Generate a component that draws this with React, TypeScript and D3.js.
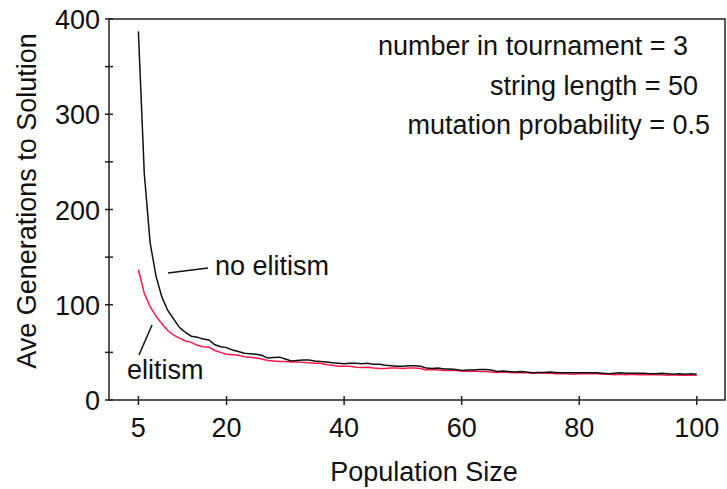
import React from "react";
import * as d3 from "d3";

const popSizes: number[] = Array.from({ length: 96 }, (_, i) => i + 5);

const noElitism: number[] = [
  387, 238, 165, 130, 108, 94, 85, 76, 71, 67,
  66, 64, 63, 58, 56, 55, 52.5, 51, 49, 48.5,
  48, 47, 44, 44.5, 45, 43, 41, 41.5, 42, 42,
  41, 40.5, 40, 39, 38.5, 38, 38.5, 38.5, 38, 38.5,
  37.5, 37.5, 36.5, 36, 35.5, 35.5, 36, 36, 35.5, 33.5,
  33, 33.5, 32.5, 32.5, 32, 31, 31.5, 31.5, 32, 32,
  31.5, 30, 30.5, 30, 29.5, 30, 29.5, 28.5, 29, 29,
  29.5, 29, 28.5, 28.5, 28.5, 28.5, 28.5, 28.5, 28.5, 28,
  27.5, 28, 28.5, 28, 28, 28, 28, 27.5, 27.5, 28,
  27.5, 27, 27.5, 27, 27.5, 27,
];

const elitism: number[] = [
  137, 112, 98, 88, 80, 73, 68, 65, 62, 60.5,
  57.5, 56, 55.5, 52, 50, 48, 47.5, 47, 45.5, 45,
  44, 43, 41.5, 41, 40.5, 40.5, 40, 40, 39.5, 39,
  38.5, 38.5, 37, 36.5, 35.5, 35.5, 35.5, 34.5, 34, 34.5,
  33.5, 33, 33, 33.5, 33.5, 33, 33.5, 33.5, 33, 31.5,
  32, 31.5, 31, 31, 31, 30.5, 30, 30.5, 30, 30,
  29.5, 29, 29.5, 29, 28.5, 28.5, 28.5, 28, 28.5, 28,
  28, 27.5, 27.5, 27.5, 27, 27.5, 27.5, 27.5, 27.5, 27,
  27, 26.5, 27, 26.5, 27, 26.5, 26.5, 26.5, 26.5, 26.5,
  26, 26.5, 26, 26, 26, 26,
];

const xTicks: number[] = [5, 20, 40, 60, 80, 100];
const yMajorTicks: number[] = [0, 100, 200, 300, 400];
const yMinorTicks: number[] = [50, 150, 250, 350];
const annotations: string[] = [
  "number in tournament = 3",
  "string length = 50",
  "mutation probability = 0.5",
];

const FONT = "'Liberation Sans', Arial, Helvetica, sans-serif";
const FS = 27;

export default function App() {
  const W = 727;
  const H = 489;
  const left = 109;
  const right = 725;
  const top = 19;
  const bottom = 400;

  const x = d3.scaleLinear().domain([0, 104.8]).range([left, right]);
  const y = d3.scaleLinear().domain([0, 400]).range([bottom, top]);

  const line = d3
    .line<number>()
    .x((_, i) => x(popSizes[i]))
    .y((d) => y(d));

  const annEnds = [688, 698, 710];
  const annBase = [55, 95, 134];

  return (
    <svg
      width={W}
      height={H}
      style={{ position: "fixed", left: 0, top: 0, background: "#fff" }}
      fontFamily={FONT}
    >
      <rect x={0} y={0} width={W} height={H} fill="#fff" />
      <rect
        x={left}
        y={top}
        width={right - left}
        height={bottom - top}
        fill="none"
        stroke="#222"
        strokeWidth={1.5}
      />
      {yMajorTicks.concat(yMinorTicks).map((t) => (
        <line
          key={"yt" + t}
          x1={left - 4}
          x2={left + 4}
          y1={y(t)}
          y2={y(t)}
          stroke="#222"
          strokeWidth={1.5}
        />
      ))}
      {yMajorTicks.map((t) => (
        <text
          key={"yl" + t}
          x={100}
          y={y(t) + 10}
          textAnchor="end"
          fontSize={FS}
          fill="#111"
        >
          {t}
        </text>
      ))}
      {xTicks.map((t) => (
        <g key={"xt" + t}>
          <line
            x1={x(t)}
            x2={x(t)}
            y1={bottom - 4}
            y2={bottom + 5}
            stroke="#222"
            strokeWidth={1.5}
          />
          <text
            x={x(t)}
            y={437}
            textAnchor="middle"
            fontSize={FS}
            fill="#111"
          >
            {t}
          </text>
        </g>
      ))}
      <text x={424} y={481} textAnchor="middle" fontSize={FS} fill="#111">
        Population Size
      </text>
      <text
        transform={`translate(36, 201) rotate(-90)`}
        textAnchor="middle"
        fontSize={FS}
        fill="#111"
      >
        Ave Generations to Solution
      </text>
      <path
        d={line(elitism) || ""}
        fill="none"
        stroke="#ff1a4a"
        strokeWidth={1.5}
      />
      <path
        d={line(noElitism) || ""}
        fill="none"
        stroke="#111"
        strokeWidth={1.5}
      />
      {annotations.map((a, i) => (
        <text
          key={a}
          x={annEnds[i]}
          y={annBase[i]}
          textAnchor="end"
          fontSize={FS}
          fill="#111"
        >
          {a}
        </text>
      ))}
      <line x1={168} y1={273} x2={208} y2={268} stroke="#111" strokeWidth={1.5} />
      <text x={215} y={275} fontSize={FS} fill="#111">
        no elitism
      </text>
      <line x1={139} y1={355} x2={152} y2={325} stroke="#111" strokeWidth={1.5} />
      <text x={127} y={379} fontSize={FS} fill="#111">
        elitism
      </text>
    </svg>
  );
}
